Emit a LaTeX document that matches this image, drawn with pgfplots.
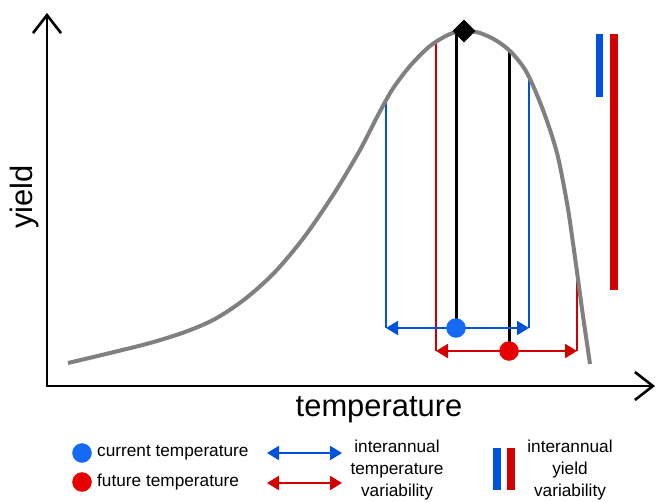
\documentclass[border=0pt]{standalone}
\usepackage{pgfplots}
\pgfplotsset{compat=1.18}
\usetikzlibrary{arrows.meta}
\usepackage{fontspec}
\setmainfont{Liberation Sans}

\definecolor{cblue}{RGB}{0,82,220}
\definecolor{cred}{RGB}{210,0,0}
\definecolor{dblue}{RGB}{20,105,245}
\definecolor{dred}{RGB}{232,0,0}
\definecolor{curvegray}{RGB}{128,128,128}

\begin{document}
\begin{tikzpicture}
\begin{axis}[
  scale only axis, width=658bp, height=502bp,
  xmin=0, xmax=658, ymin=0, ymax=502, y dir=reverse,
  axis lines=none, clip=false,
]
\path (axis cs:0,0) rectangle (axis cs:658,502);

% axes with open arrow heads
\addplot[black, line width=2.6bp, line join=miter,
  {Straight Barb[length=18bp,width=28bp]}-{Straight Barb[length=18bp,width=28bp]}]
  coordinates {(47,13)(47,386)(655,386)};

% verticals from the curve down to the arrows
\addplot[cblue, line width=1.6bp] coordinates {(386,99)(386,328)};
\addplot[cblue, line width=1.6bp] coordinates {(529,78)(529,328)};
\addplot[cred, line width=2bp] coordinates {(436,42)(436,351)};
\addplot[cred, line width=2bp] coordinates {(577,276)(577,351)};
\addplot[black, line width=3bp] coordinates {(456,32)(456,328)};
\addplot[black, line width=3bp] coordinates {(509,50)(509,351)};

% yield response curve
\addplot[curvegray, line width=4bp, smooth, tension=0.5] coordinates {
  (68,363) (110,353) (150,343) (185,332) (215,319) (245,299) (275,272)
  (305,236) (335,192) (360,150) (377,117) (392,90) (410,66) (430,46)
  (450,34) (465,31) (480,33) (497,41) (512,53) (527,73) (543,110)
  (557,153) (567,203) (572,236) (577,272) (583,316) (590,364)
};

% interannual temperature variability
\addplot[cblue, line width=2bp,
  {Triangle[length=12bp,width=14bp]}-{Triangle[length=12bp,width=14bp]}]
  coordinates {(386,328)(529,328)};
\addplot[cred, line width=2bp,
  {Triangle[length=12bp,width=14bp]}-{Triangle[length=12bp,width=14bp]}]
  coordinates {(436,351)(577,351)};

% current and future temperature
\addplot[only marks, mark=*, mark size=9.5bp, mark options={draw=dblue, fill=dblue}]
  coordinates {(456,328)};
\addplot[only marks, mark=*, mark size=9.5bp, mark options={draw=dred, fill=dred}]
  coordinates {(509,351)};

% optimum
\addplot[only marks, mark=square*, mark size=7.8bp,
  mark options={rotate=45, draw=black, fill=black}] coordinates {(464,31)};

% interannual yield variability
\addplot[fill=cblue, draw=none] coordinates {(596,34)(603,34)(603,97)(596,97)} -- cycle;
\addplot[fill=cred, draw=none] coordinates {(610,34)(618,34)(618,290)(610,290)} -- cycle;

% axis labels
\node[rotate=90, font=\fontsize{31}{36}\selectfont, inner sep=0] at (axis cs:25,197) {yield};
\node[font=\fontsize{31}{36}\selectfont, inner sep=0] at (axis cs:379,410) {temperature};

% key
\addplot[only marks, mark=*, mark size=9.5bp, mark options={draw=dblue, fill=dblue}]
  coordinates {(82,453)};
\addplot[only marks, mark=*, mark size=9.5bp, mark options={draw=dred, fill=dred}]
  coordinates {(82,482)};
\node[anchor=west, inner sep=0, font=\fontsize{17.3}{21}\selectfont] at (axis cs:97,453) {current temperature};
\node[anchor=west, inner sep=0, font=\fontsize{17.3}{21}\selectfont] at (axis cs:97,482) {future temperature};
\addplot[cblue, line width=2bp,
  {Triangle[length=12bp,width=14bp]}-{Triangle[length=12bp,width=14bp]}]
  coordinates {(267,453)(342,453)};
\addplot[cred, line width=2bp,
  {Triangle[length=12bp,width=14bp]}-{Triangle[length=12bp,width=14bp]}]
  coordinates {(267,483)(342,483)};
\node[align=center, inner sep=0, font=\fontsize{17.3}{22}\selectfont] at (axis cs:397,470)
  {interannual\\temperature\\variability};
\addplot[fill=cblue, draw=none] coordinates {(493,448)(501,448)(501,490)(493,490)} -- cycle;
\addplot[fill=cred, draw=none] coordinates {(507,448)(515,448)(515,490)(507,490)} -- cycle;
\node[align=center, inner sep=0, font=\fontsize{17.3}{22}\selectfont] at (axis cs:570,470)
  {interannual\\yield\\variability};
\end{axis}
\end{tikzpicture}
\end{document}
